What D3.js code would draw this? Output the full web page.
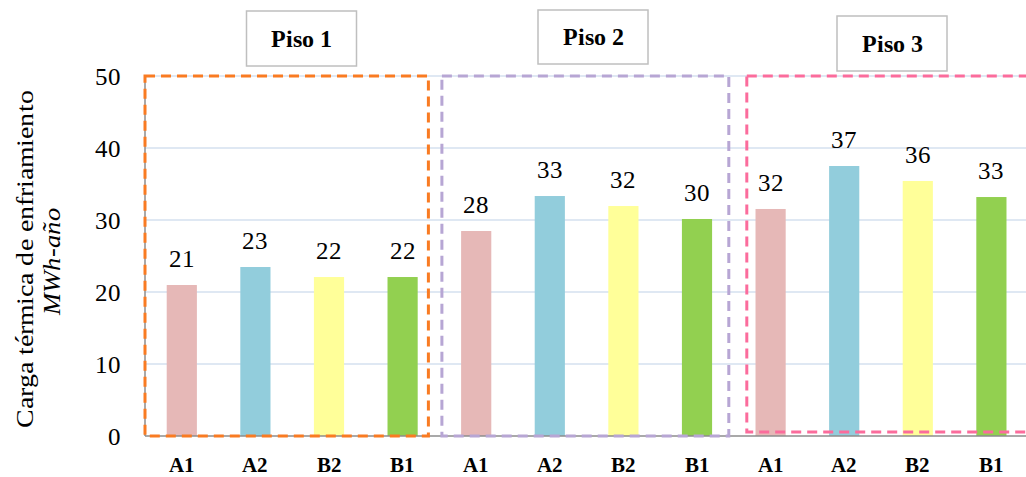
<!DOCTYPE html>
<html><head><meta charset="utf-8">
<script src="https://cdn.jsdelivr.net/npm/d3@7"></script>
<style>
@font-face{font-family:"RefSerif";src:local("Liberation Serif"),local("LiberationSerif"),local("LiberationSerif-Regular"),local("DejaVu Serif"),local("DejaVuSerif");font-weight:400;font-style:normal}
@font-face{font-family:"RefSerif";src:local("Liberation Serif Bold"),local("LiberationSerif-Bold"),local("DejaVu Serif Bold"),local("DejaVuSerif-Bold");font-weight:700;font-style:normal}
@font-face{font-family:"RefSerif";src:local("Liberation Serif Italic"),local("LiberationSerif-Italic"),local("DejaVu Serif Italic"),local("DejaVuSerif-Italic");font-weight:400;font-style:italic}
body{margin:0;background:#fff}svg{display:block}
</style>
</head><body>
<svg id="c" width="1026" height="477"></svg>
<script>
const categories = ["A1","A2","B2","B1","A1","A2","B2","B1","A1","A2","B2","B1"];
const values = [20.97,23.47,22.08,22.08,28.47,33.33,31.94,30.14,31.53,37.5,35.42,33.19];
const valueLabels = ["21","23","22","22","28","33","32","30","32","37","36","33"];
const colors = ["#e6b8b7","#92cddc","#ffff99","#92d050"];
const groups = ["Piso 1","Piso 2","Piso 3"];
const yTicks = [0,10,20,30,40,50];
const yTitle = "Carga térmica de enfriamiento";
const yUnit = "MWh-año";

const FONT = "RefSerif, 'Liberation Serif', 'DejaVu Serif', 'Times New Roman', Times, serif";
const svg = d3.select("#c");
const W = 1026, H = 477;
const pLeft = 145, pTop = 76, pBottom = 436;
const bandW = 73.6;
const x = d3.scaleBand().domain(d3.range(12)).range([pLeft, pLeft + 12*bandW]).paddingInner(0.59).paddingOuter(0.295);
const y = d3.scaleLinear().domain([0,50]).range([pBottom, pTop]);

// gridlines
svg.append("g").selectAll("line").data(yTicks.filter(d=>d>0)).join("line")
  .attr("x1", pLeft).attr("x2", W).attr("y1", d=>y(d)).attr("y2", d=>y(d))
  .attr("stroke","#d5e0ef").attr("stroke-width",1.5);

// bars
svg.append("g").selectAll("rect").data(values).join("rect")
  .attr("x",(d,i)=>x(i)).attr("width",x.bandwidth())
  .attr("y",d=>y(d)).attr("height",d=>y(0)-y(d))
  .attr("fill",(d,i)=>colors[i%4]);

// axes lines
svg.append("line").attr("x1",pLeft).attr("x2",W).attr("y1",pBottom).attr("y2",pBottom).attr("stroke","#8c8c8c").attr("stroke-width",1.5);
svg.append("line").attr("x1",pLeft).attr("x2",pLeft).attr("y1",pTop).attr("y2",pBottom).attr("stroke","#8c8c8c").attr("stroke-width",1.5);

// y tick labels
const yAxis = d3.axisLeft(y).tickValues(yTicks).tickSize(0).tickPadding(24);
const ya = svg.append("g").attr("transform",`translate(${pLeft},0)`).call(yAxis);
ya.select(".domain").remove();
ya.selectAll("text").attr("font-size",25).attr("fill","#000").attr("dy","0.34em");

// x labels
const xAxis = d3.axisBottom(x).tickFormat(i=>categories[i]).tickSize(0).tickPadding(21);
const xa = svg.append("g").attr("transform",`translate(0,${pBottom})`).call(xAxis);
xa.select(".domain").remove();
xa.selectAll("text").attr("font-size",21).attr("font-weight","bold").attr("fill","#000");

// value labels
svg.append("g").selectAll("text").data(values).join("text")
  .attr("x",(d,i)=>x(i)+x.bandwidth()/2).attr("y",d=>y(d)-18)
  .attr("text-anchor","middle").attr("font-size",25).text((d,i)=>valueLabels[i]);

// dashed group boxes
const bandStart = i => pLeft + i*bandW;
const boxes = [
  {g:0, x0: bandStart(0), x1: bandStart(4)-11, y1: pBottom, color:"#f97b22"},
  {g:1, x0: bandStart(4)+2.5, x1: bandStart(8)-5, y1: pBottom, color:"#b7a6d4"},
  {g:2, x0: bandStart(8)+13, x1: W+10, y1: pBottom-4, color:"#fb6c9c"}
];
svg.append("g").selectAll("rect").data(boxes).join("rect")
  .attr("x",d=>d.x0).attr("y",pTop).attr("width",d=>d.x1-d.x0).attr("height",d=>d.y1-pTop)
  .attr("fill","none").attr("stroke",d=>d.color).attr("stroke-width",3).attr("stroke-dasharray","10,6");

// Piso label boxes
const labelBoxes = [{cx:301.5,y0:11,y1:66},{cx:593,y0:10,y1:64},{cx:892,y0:16,y1:71}];
const bw = 110;
labelBoxes.forEach((b,i)=>{
  svg.append("rect").attr("x",b.cx-bw/2).attr("y",b.y0).attr("width",bw).attr("height",b.y1-b.y0)
    .attr("fill","#fff").attr("stroke","#bfbfbf").attr("stroke-width",1.5);
  svg.append("text").attr("x",b.cx).attr("y",(b.y0+b.y1)/2).attr("dy","0.35em")
    .attr("text-anchor","middle").attr("font-size",24).attr("font-weight","bold").text(groups[i]);
});

// y title
const cy = 259;
svg.append("text").attr("transform",`translate(24,${cy}) rotate(-90)`).attr("text-anchor","middle")
  .attr("dy","0.35em").attr("font-size",25).attr("textLength",338).attr("lengthAdjust","spacingAndGlyphs").text(yTitle);
svg.append("text").attr("transform",`translate(51,${cy+2}) rotate(-90)`).attr("text-anchor","middle")
  .attr("dy","0.35em").attr("font-size",25).attr("font-style","italic").attr("textLength",108).attr("lengthAdjust","spacingAndGlyphs").text(yUnit);

svg.selectAll("text").style("font-family", FONT).attr("fill","#000");
</script>
</body></html>
